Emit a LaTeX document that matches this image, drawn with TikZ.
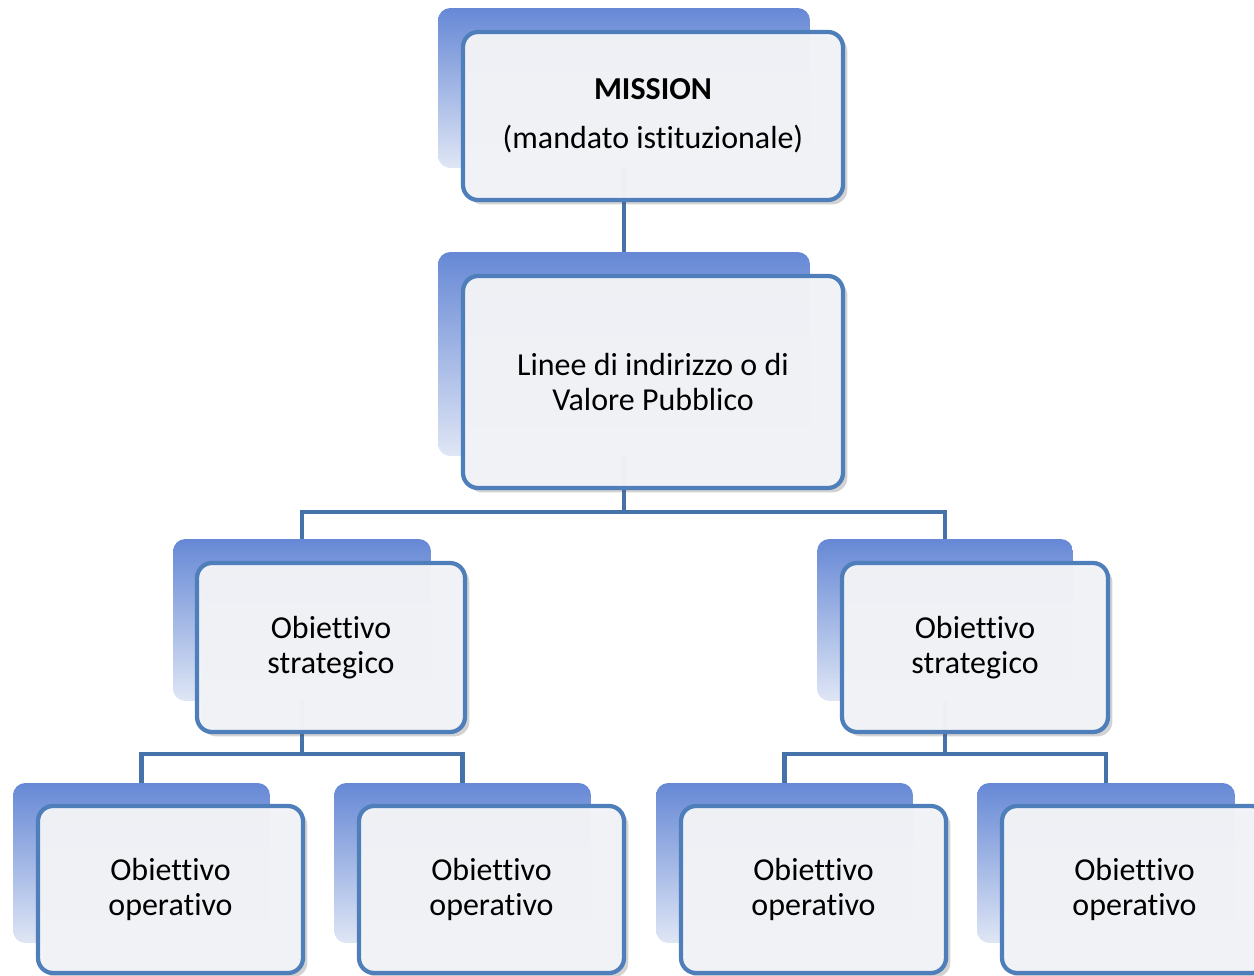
\documentclass[tikz,border=0pt]{standalone}
\usepackage{fontspec}
\setmainfont{Carlito}[Ligatures={NoCommon}]
\usetikzlibrary{shadows}
\definecolor{backtop}{HTML}{6688D5}
\definecolor{backbot}{HTML}{DFE6F5}
\definecolor{frontfill}{HTML}{F3F4F7}
\definecolor{frontedge}{HTML}{4F7FBA}
\definecolor{connc}{HTML}{4672AA}
\tikzset{
  backbox/.style={shade, top color=backtop, bottom color=backbot, rounded corners=7pt, inner sep=0pt},
  frontbox/.style={draw=frontedge, line width=2.4pt, fill=frontfill, fill opacity=0.97, text opacity=1,
    rounded corners=8.5pt, inner sep=0pt, align=center,
    font=\fontsize{18.2}{19.8}\selectfont,
    drop shadow={shadow xshift=2.5pt, shadow yshift=-2.5pt, opacity=0.25, fill=black!70}},
  conn/.style={draw=connc, line width=2.5pt},
}
\begin{document}
\begin{tikzpicture}[x=0.02cm,y=-0.02cm]
\useasboundingbox (0,0) rectangle (1254,976);
% back boxes
\node[backbox, minimum width=7.44cm, minimum height=3.2cm] (bM) at (624,88) {};
\node[backbox, minimum width=7.44cm, minimum height=4.08cm] (bV) at (624,354) {};
\node[backbox, minimum width=5.16cm, minimum height=3.24cm] (bS1) at (302,620) {};
\node[backbox, minimum width=5.12cm, minimum height=3.24cm] (bS2) at (945,620) {};
\node[backbox, minimum width=5.14cm, minimum height=3.2cm] (bO1) at (141.5,863) {};
\node[backbox, minimum width=5.14cm, minimum height=3.2cm] (bO2) at (462.5,863) {};
\node[backbox, minimum width=5.14cm, minimum height=3.2cm] (bO3) at (784.5,863) {};
\node[backbox, minimum width=5.16cm, minimum height=3.2cm] (bO4) at (1106,863) {};
% junction coordinates
\coordinate (jV) at (624,512);
\coordinate (jS1) at (302,754);
\coordinate (jS2) at (945,754);
% connectors
\draw[conn] (bM.south) -- (bV.north);
\draw[conn] (bV.south) -- (jV) -| (bS1.north);
\draw[conn] (jV) -| (bS2.north);
\draw[conn] (bS1.south) -- (jS1) -| (bO1.north);
\draw[conn] (jS1) -| (bO2.north);
\draw[conn] (bS2.south) -- (jS2) -| (bO3.north);
\draw[conn] (jS2) -| (bO4.north);
% front boxes
\node[frontbox, minimum width=7.6cm, minimum height=3.36cm, font=\fontsize{18.2}{27.8}\selectfont] (fM) at (653,116) {\textbf{MISSION}\\(mandato istituzionale)};
\node[frontbox, minimum width=7.6cm, minimum height=4.24cm] (fV) at (653,382) {Linee di indirizzo o di\\Valore Pubblico};
\node[frontbox, minimum width=5.36cm, minimum height=3.38cm] (fS1) at (331,647.5) {Obiettivo\\strategico};
\node[frontbox, minimum width=5.32cm, minimum height=3.38cm] (fS2) at (975,647.5) {Obiettivo\\strategico};
\node[frontbox, minimum width=5.3cm, minimum height=3.34cm] (fO1) at (170.5,889.5) {Obiettivo\\operativo};
\node[frontbox, minimum width=5.3cm, minimum height=3.34cm] (fO2) at (491.5,889.5) {Obiettivo\\operativo};
\node[frontbox, minimum width=5.3cm, minimum height=3.34cm] (fO3) at (813.5,889.5) {Obiettivo\\operativo};
\node[frontbox, minimum width=5.3cm, minimum height=3.34cm] (fO4) at (1134.5,889.5) {Obiettivo\\operativo};
\end{tikzpicture}
\end{document}
